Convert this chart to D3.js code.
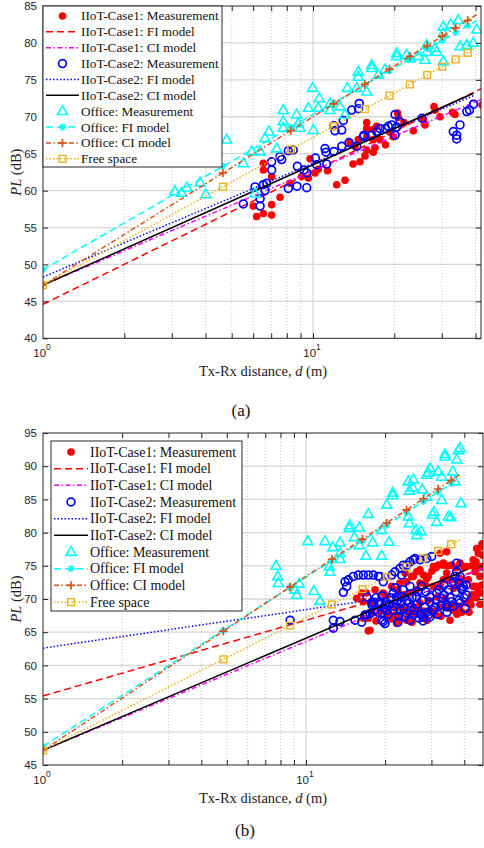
<!DOCTYPE html>
<html>
<head>
<meta charset="utf-8">
<script src="https://cdn.jsdelivr.net/npm/d3@7"></script>
<style>
  body { margin: 0; background: #fff; }
  svg { display: block; }
</style>
</head>
<body>
<script>
// ---------- Measured path loss, panel (a): [distance m, PL dB] ----------
const case1A = [[6.01,57.9],[6.19,56.5],[6.55,56.9],[7.03,58.1],[7.03,56.7],[7.55,59.1],[8.22,61.0],[6.55,63.7],[6.55,62.8],[7.03,61.9],[9.08,61.9],[9.75,64.3],[9.61,61.7],[10.46,62.9],[10.17,62.4],[11.32,62.7],[12.24,60.8],[13.14,61.4],[14.07,63.6],[14.93,63.9],[15.58,64.7],[13.71,66.5],[14.31,66.0],[14.72,66.9],[15.81,65.5],[15.81,69.2],[15.81,68.4],[15.81,67.3],[16.72,68.3],[16.72,66.9],[16.97,65.8],[16.72,65.2],[17.70,66.9],[18.56,66.2],[17.21,68.7],[19.28,67.9],[19.84,67.3],[20.56,70.5],[20.70,69.9],[21.73,69.2],[23.52,68.1],[25.62,69.6],[25.99,68.9],[28.06,71.4],[28.31,70.9],[29.54,70.0],[32.86,70.6],[33.57,70.3],[42.26,71.6]];
const case2A = [[5.52,58.2],[6.10,60.5],[6.37,58.9],[6.37,57.9],[6.64,60.0],[6.55,60.8],[6.74,61.0],[7.03,62.8],[7.03,63.9],[7.55,64.6],[7.66,64.2],[8.10,65.4],[8.45,65.5],[8.10,60.3],[8.72,60.6],[9.48,60.4],[8.75,63.3],[9.26,62.8],[9.48,62.4],[10.21,64.4],[10.32,63.5],[11.08,65.7],[11.17,65.2],[11.24,63.6],[11.96,65.3],[12.78,66.0],[13.59,66.5],[14.52,66.0],[15.45,67.5],[11.96,68.8],[12.06,68.1],[12.78,68.2],[12.95,69.5],[13.91,70.9],[14.84,71.8],[14.74,71.1],[15.36,67.3],[16.50,67.5],[17.21,68.0],[17.70,68.4],[18.56,68.4],[19.01,68.7],[19.56,68.9],[20.13,70.3],[20.13,67.5],[20.42,68.6],[21.00,69.3],[25.33,69.8],[33.08,68.0],[34.06,67.5],[34.06,67.0],[35.03,68.9],[37.10,70.7],[37.99,70.9],[39.30,71.7]];
const officeA = [[3.08,59.9],[3.26,59.7],[3.41,60.4],[3.82,61.1],[4.01,59.5],[4.79,66.9],[5.52,63.7],[5.93,65.3],[6.37,65.3],[6.64,67.1],[6.87,68.0],[7.34,65.7],[7.76,70.9],[7.76,69.4],[7.76,68.5],[8.70,70.3],[8.82,69.1],[8.95,68.5],[9.61,71.2],[9.97,73.9],[10.03,68.2],[10.46,71.2],[10.55,72.5],[11.56,70.9],[11.56,71.8],[12.59,71.4],[13.14,70.3],[13.40,73.9],[14.52,73.9],[14.72,76.1],[14.72,75.4],[15.81,73.4],[16.50,77.0],[16.50,76.6],[17.46,75.7],[18.48,76.4],[20.42,78.6],[20.42,78.2],[22.23,78.4],[22.87,77.9],[24.55,78.2],[25.99,77.7],[26.37,79.7],[26.37,78.8],[28.31,79.3],[28.72,78.8],[30.38,77.5],[30.38,82.2],[30.38,81.3],[32.36,82.5],[34.52,83.1],[35.03,79.5],[37.10,79.7],[39.25,80.0],[40.40,81.8],[6.10,59.6]];

// ---------- Measured path loss, panel (b): [distance m, PL dB] ----------
const case1B = [[17.51,65.3],[17.26,67.1],[17.01,70.9],[18.30,71.4],[19.67,70.9],[21.18,71.9],[22.77,72.4],[24.15,72.6],[25.23,73.4],[26.36,74.1],[27.93,73.6],[29.17,73.4],[27.13,72.4],[26.36,71.4],[24.86,70.9],[23.44,70.6],[22.77,68.8],[23.79,68.3],[22.43,66.8],[24.15,66.8],[27.13,69.4],[29.61,68.3],[30.94,67.6],[32.33,68.8],[33.78,70.1],[36.32,68.3],[36.86,69.1],[38.51,68.3],[40.83,69.4],[42.66,70.6],[44.57,71.9],[45.87,73.4],[43.92,74.1],[40.83,74.9],[38.51,75.4],[35.81,75.1],[33.28,75.1],[31.85,75.1],[30.48,74.9],[34.28,73.9],[35.81,72.9],[36.32,71.6],[38.51,72.4],[41.41,72.9],[43.26,75.9],[45.20,76.9],[46.98,77.9],[46.98,76.6],[46.57,74.9],[33.28,72.9],[30.48,71.9],[31.41,70.3],[29.17,69.8],[25.59,68.8],[21.80,67.6],[20.27,67.3],[19.11,68.1],[17.78,69.6],[16.52,69.6],[17.26,65.2],[16.52,67.1],[17.78,67.8],[22.13,67.4],[23.44,68.3],[26.36,68.6],[30.94,68.1],[35.28,68.6],[25.59,67.8],[32.33,76.9],[34.28,77.1],[44.57,77.6],[46.69,78.3],[23.79,73.9],[25.59,73.4],[28.77,73.1],[33.28,75.4],[35.28,72.9],[43.26,71.9],[45.87,70.9],[42.03,69.6],[37.41,68.8],[32.33,71.9],[15.59,70.1],[16.28,70.9],[27.13,74.4],[30.13,74.2],[31.21,74.7],[34.67,75.0],[37.18,74.7],[39.88,74.8],[42.77,75.0],[44.30,75.6],[45.08,74.7],[39.19,72.9],[34.28,72.9],[28.35,72.3],[22.38,71.4],[20.15,70.5],[19.28,68.6],[20.50,68.0],[21.80,68.9],[24.64,67.7],[27.86,68.2],[33.78,68.8],[38.17,68.9],[43.15,70.6],[46.69,72.1],[42.40,69.1],[39.19,68.0],[35.28,66.8],[45.08,71.4],[22.13,66.3],[18.46,66.7],[21.23,67.0],[25.29,66.5],[28.85,66.8],[32.62,67.4],[37.50,67.7],[41.68,68.0],[45.87,69.2],[44.30,70.2]];
const case2B = [[8.70,66.8],[12.70,66.8],[13.47,66.6],[12.70,65.6],[15.36,66.8],[16.28,66.5],[16.77,67.6],[17.01,67.6],[13.87,71.0],[14.28,71.9],[14.48,72.9],[15.13,73.4],[15.81,73.6],[16.52,73.6],[17.26,73.6],[18.03,73.6],[18.83,73.4],[19.67,72.6],[21.18,73.6],[21.80,74.1],[22.77,74.6],[23.44,75.1],[24.86,75.6],[25.97,76.1],[27.13,75.9],[28.77,76.1],[30.05,76.4],[23.11,73.6],[14.07,72.6],[17.78,69.4],[18.30,68.3],[19.11,69.6],[19.40,66.8],[19.97,66.3],[20.27,68.3],[21.47,70.9],[22.13,70.3],[23.11,69.4],[24.15,69.8],[25.23,68.8],[26.36,70.3],[27.13,67.8],[27.93,67.3],[29.17,67.6],[30.94,68.8],[32.81,70.1],[34.28,68.8],[34.76,71.4],[36.32,72.6],[37.41,75.4],[37.41,74.1],[38.51,73.4],[39.64,71.9],[40.83,70.6],[35.81,69.6],[21.47,68.3],[22.77,68.3],[25.59,67.6],[23.79,67.3],[17.51,67.8],[19.97,69.1],[29.61,70.3],[31.41,70.9],[24.86,71.9],[27.54,71.9],[38.51,69.4],[40.23,68.6],[27.54,67.6],[29.61,67.3],[34.28,69.1],[19.67,66.6],[36.86,73.4],[38.17,72.4],[39.19,71.6],[24.15,75.1],[25.59,75.9],[19.11,73.4],[17.06,70.3],[17.82,69.1],[18.46,70.2],[18.79,68.0],[19.45,70.5],[20.15,69.5],[20.50,67.7],[21.05,70.2],[21.61,68.9],[22.18,69.7],[22.57,67.4],[23.17,70.3],[23.58,68.6],[24.21,67.9],[24.64,69.4],[25.29,70.2],[25.74,68.3],[26.43,69.2],[26.90,67.1],[27.61,69.8],[28.35,68.8],[28.85,68.0],[29.61,69.5],[30.40,68.3],[31.21,69.8],[31.77,67.7],[32.62,69.1],[33.48,70.6],[34.37,68.0],[35.28,70.2],[36.22,68.9],[37.18,71.1],[38.17,69.8],[39.19,71.4],[39.88,70.2],[40.59,72.1],[33.48,72.1],[32.05,71.4],[28.60,71.1],[26.66,71.1],[23.44,71.4],[21.80,71.7],[20.68,69.2],[24.86,66.8],[27.86,66.7],[22.38,66.5],[18.95,69.2],[19.80,68.6],[18.14,69.5]];
const officeB = [[7.69,75.0],[7.81,73.4],[7.85,72.4],[9.08,71.4],[9.22,70.6],[9.43,72.3],[10.15,78.7],[10.72,71.2],[11.30,69.7],[11.81,78.7],[12.26,74.9],[12.34,74.1],[12.64,77.8],[13.47,78.5],[13.47,76.9],[13.47,76.0],[14.61,80.7],[14.70,81.1],[15.27,79.3],[15.95,80.8],[15.95,78.1],[16.91,76.5],[17.26,82.8],[17.93,78.5],[19.40,76.5],[19.40,80.4],[20.28,84.2],[20.69,78.6],[21.37,86.0],[21.37,85.6],[24.49,87.7],[24.71,86.3],[25.59,88.0],[25.46,86.8],[24.49,82.4],[24.71,81.4],[26.20,80.4],[26.36,79.6],[27.37,80.2],[27.68,86.5],[28.77,85.4],[29.17,89.0],[29.61,89.7],[28.77,88.7],[30.31,82.7],[30.66,83.1],[31.41,81.6],[31.85,89.2],[32.81,88.4],[32.81,84.9],[33.78,91.8],[33.78,91.4],[34.76,82.4],[35.50,82.3],[36.13,89.2],[36.86,87.7],[37.41,91.0],[37.94,92.4],[38.51,92.7],[38.85,84.4]];

// ---------- Fitted models: PL(d) = A + slope * log10(d), drawn from d = 1 to dEnd ----------
// [A (dB), slope (dB/decade), dEnd (m)]
const case1FI_A = [44.6, 18.0, 42.0], case1CI_A = [47.2, 15.5, 42.0];
const case2FI_A = [48.3, 15.4, 39.3], case2CI_A = [47.2, 16.3, 39.3];
const officeFI_A = [49.3, 21.0, 40.4], officeCI_A = [47.2, 22.8, 40.4];
const freeSpace_A = [47.2, 20.0, 40.4];
const markD_A = [1, 4.64, 8.28, 11.92, 15.56, 19.2, 22.84, 26.48, 30.12, 33.76, 37.4];

const case1FI_B = [55.4, 11.4, 47.1], case1CI_B = [47.2, 16.4, 47.1];
const case2FI_B = [62.6, 5.8, 40.8], case2CI_B = [47.2, 16.9, 40.8];
const officeFI_B = [47.8, 25.5, 38.5], officeCI_B = [47.2, 26.2, 38.5];
const freeSpace_B = [47.2, 20.0, 38.5];
const markD_B = [1, 4.85, 8.7, 12.55, 16.4, 20.25, 24.1, 27.95, 31.8, 35.65];

// ---------- Axis ticks and labels ----------
const yTicksA = [40, 45, 50, 55, 60, 65, 70, 75, 80, 85];
const yTicksB = [45, 50, 55, 60, 65, 70, 75, 80, 85, 90, 95];
const xMinorTicks = [2, 3, 4, 5, 6, 7, 8, 9, 20, 30, 40];
const xDecades = [1, 10];
const legendLabels = ["IIoT-Case1: Measurement", "IIoT-Case1: FI model", "IIoT-Case1: CI model",
  "IIoT-Case2: Measurement", "IIoT-Case2: FI model", "IIoT-Case2: CI model",
  "Office: Measurement", "Office: FI model", "Office: CI model", "Free space"];

// ---------- Styles ----------
const C = { red: "#ff0000", magenta: "#ff00ff", blue: "#0000ff", black: "#000000",
  cyan: "#00ffff", orange: "#d95319", yellow: "#edb120", axis: "#262626" };
const DASH = { dash: "7,4", dashdot: "5,2.5,1.5,2.5", dot: "1.5,2", solid: null };
const SERIF = "'Liberation Serif','Times New Roman',Times,serif";
const SANS = "'Liberation Sans',Arial,Helvetica,sans-serif";

const svg = d3.select("body").append("svg").attr("width", 484).attr("height", 848);

// ---------- marker painters ----------
function dot(g, cx, cy) {
  g.append("circle").attr("cx", cx).attr("cy", cy).attr("r", 3.8).attr("fill", C.red);
}
function ring(g, cx, cy) {
  g.append("circle").attr("cx", cx).attr("cy", cy).attr("r", 3.9)
    .attr("fill", "none").attr("stroke", C.blue).attr("stroke-width", 1.7);
}
function tri(g, cx, cy) {
  g.append("path").attr("d", `M${cx},${cy - 5.4}L${cx + 5},${cy + 3.4}L${cx - 5},${cy + 3.4}Z`)
    .attr("fill", "none").attr("stroke", C.cyan).attr("stroke-width", 1.6).attr("stroke-linejoin", "miter");
}
function star(g, cx, cy) {
  const s = 3.6, t = 2.6;
  g.append("path").attr("d",
    `M${cx - s},${cy}H${cx + s}M${cx},${cy - s}V${cy + s}M${cx - t},${cy - t}L${cx + t},${cy + t}M${cx - t},${cy + t}L${cx + t},${cy - t}`)
    .attr("stroke", C.cyan).attr("stroke-width", 1.4);
}
function plus(g, cx, cy) {
  const s = 4.2;
  g.append("path").attr("d", `M${cx - s},${cy}H${cx + s}M${cx},${cy - s}V${cy + s}`)
    .attr("stroke", C.orange).attr("stroke-width", 1.7);
}
function square(g, cx, cy) {
  g.append("rect").attr("x", cx - 3.4).attr("y", cy - 3.4).attr("width", 6.8).attr("height", 6.8)
    .attr("fill", "none").attr("stroke", C.yellow).attr("stroke-width", 1.4);
}

function drawPanel(P) {
  const x = d3.scaleLog().domain([1, P.dMax]).range([P.left, P.right]);
  const y = d3.scaleLinear().domain([P.yMin, P.yMax]).range([P.bottom, P.top]);
  const g = svg.append("g");
  const clipId = "clip" + P.id;
  svg.append("clipPath").attr("id", clipId).append("rect")
    .attr("x", P.left).attr("y", P.top).attr("width", P.right - P.left).attr("height", P.bottom - P.top);

  // grid
  const grid = g.append("g");
  grid.selectAll(".hg").data(P.yTicks.slice(1, -1)).join("line")
    .attr("x1", P.left).attr("x2", P.right).attr("y1", d => y(d)).attr("y2", d => y(d))
    .attr("stroke", "#d8d8d8").attr("stroke-width", 1.3);
  grid.selectAll(".vm").data(xMinorTicks.filter(d => d < P.dMax)).join("line")
    .attr("x1", d => x(d)).attr("x2", d => x(d)).attr("y1", P.top).attr("y2", P.bottom)
    .attr("stroke", "#bdbdbd").attr("stroke-width", 0.8).attr("stroke-dasharray", "1,2");
  grid.append("line").attr("x1", x(10)).attr("x2", x(10)).attr("y1", P.top).attr("y2", P.bottom)
    .attr("stroke", "#d8d8d8").attr("stroke-width", 1.3);

  const plot = g.append("g").attr("clip-path", `url(#${clipId})`);

  function model(m, color, dash, markFn) {
    const line = d3.line().x(d => x(d)).y(d => y(m[0] + m[1] * Math.log10(d)));
    plot.append("path").attr("d", line([1, m[2]])).attr("fill", "none")
      .attr("stroke", color).attr("stroke-width", 1.5)
      .attr("stroke-dasharray", dash);
    if (markFn) {
      const mg = plot.append("g");
      P.marks.filter(d => d <= m[2]).forEach(d => markFn(mg, x(d), y(m[0] + m[1] * Math.log10(d))));
    }
  }
  function scatter(data, fn) {
    const sg = plot.append("g");
    data.forEach(([d, pl]) => fn(sg, x(d), y(pl)));
  }

  scatter(P.case1, dot);
  model(P.c1FI, C.red, DASH.dash);
  model(P.c1CI, C.magenta, DASH.dashdot);
  scatter(P.case2, ring);
  model(P.c2FI, C.blue, DASH.dot);
  model(P.c2CI, C.black, DASH.solid);
  scatter(P.office, tri);
  model(P.ofFI, C.cyan, DASH.dash, star);
  model(P.ofCI, C.orange, DASH.dashdot, plus);
  model(P.fs, C.yellow, DASH.dot, square);

  // axes box and ticks
  const ax = g.append("g").attr("font-family", SANS).attr("font-size", 11.5).attr("fill", C.axis);
  ax.append("rect").attr("x", P.left).attr("y", P.top).attr("width", P.right - P.left)
    .attr("height", P.bottom - P.top).attr("fill", "none").attr("stroke", C.axis).attr("stroke-width", 1);

  const left = d3.axisLeft(y).tickValues(P.yTicks).tickSize(-5).tickPadding(6).tickFormat(d3.format("d"));
  const right = d3.axisRight(y).tickValues(P.yTicks).tickSize(-5).tickFormat("");
  const allX = xMinorTicks.concat([10]).filter(d => d < P.dMax);
  const bottom = d3.axisBottom(x).tickValues(allX).tickSize(-5).tickFormat("");
  const top = d3.axisTop(x).tickValues(allX).tickSize(-5).tickFormat("");
  [[left, `translate(${P.left},0)`], [right, `translate(${P.right},0)`],
   [bottom, `translate(0,${P.bottom})`], [top, `translate(0,${P.top})`]].forEach(([a, t]) => {
    const s = ax.append("g").attr("transform", t).call(a);
    s.select(".domain").remove();
    s.selectAll("line").attr("stroke", C.axis);
    s.selectAll("text").attr("fill", C.axis).attr("font-family", SANS).attr("font-size", 11.5);
  });

  // decade labels 10^0, 10^1
  xDecades.forEach((d, i) => {
    const t = ax.append("text").attr("x", x(d) - 1).attr("y", P.bottom + 19)
      .attr("text-anchor", "middle").attr("fill", C.axis);
    t.append("tspan").text("10");
    t.append("tspan").attr("dy", -7).attr("font-size", 8.5).text(String(i));
  });

  // axis titles
  const yl = g.append("text").attr("font-family", SERIF).attr("font-size", 14.5).attr("fill", "#222")
    .attr("text-anchor", "middle")
    .attr("transform", `translate(${21},${(P.top + P.bottom) / 2}) rotate(-90)`);
  yl.append("tspan").attr("font-style", "italic").text("PL");
  yl.append("tspan").text(" (dB)");

  const xl = g.append("text").attr("font-family", SERIF).attr("font-size", 14.5).attr("fill", "#222")
    .attr("text-anchor", "middle").attr("x", P.xLabelX).attr("y", P.bottom + 38);
  xl.append("tspan").text("Tx-Rx distance, ");
  xl.append("tspan").attr("font-style", "italic").text("d");
  xl.append("tspan").text(" (m)");

  g.append("text").attr("font-family", SERIF).attr("font-size", 17).attr("fill", "#111")
    .attr("text-anchor", "middle").attr("x", P.tagX).attr("y", P.tagY).text(P.tag);

  // legend
  const L = P.legend;
  const lg = g.append("g");
  lg.append("rect").attr("x", L.x).attr("y", L.y).attr("width", L.w).attr("height", L.h)
    .attr("fill", "#fff").attr("stroke", C.axis).attr("stroke-width", 1);
  const samples = [
    { m: dot }, { c: C.red, d: DASH.dash }, { c: C.magenta, d: DASH.dashdot },
    { m: ring }, { c: C.blue, d: DASH.dot }, { c: C.black, d: DASH.solid },
    { m: tri }, { c: C.cyan, d: DASH.dash, m: star }, { c: C.orange, d: DASH.dashdot, m: plus },
    { c: C.yellow, d: DASH.dot, m: square }];
  legendLabels.forEach((lab, i) => {
    const cy = L.y + L.first + i * L.step;
    const s = samples[i];
    if (s.c) lg.append("line").attr("x1", L.x + 3).attr("x2", L.x + L.sw).attr("y1", cy).attr("y2", cy)
      .attr("stroke", s.c).attr("stroke-width", 1.5).attr("stroke-dasharray", s.d);
    if (s.m) s.m(lg, L.x + 3 + (L.sw - 3) / 2, cy);
    lg.append("text").attr("x", L.x + L.sw + 2).attr("y", cy + L.fs * 0.34)
      .attr("font-family", SERIF).attr("font-size", L.fs).attr("fill", "#111").text(lab);
  });
}

drawPanel({
  id: "A", left: 43, right: 481, top: 6, bottom: 338.3, dMax: 41.9, yMin: 40, yMax: 85,
  yTicks: yTicksA, marks: markD_A,
  case1: case1A, case2: case2A, office: officeA,
  c1FI: case1FI_A, c1CI: case1CI_A, c2FI: case2FI_A, c2CI: case2CI_A,
  ofFI: officeFI_A, ofCI: officeCI_A, fs: freeSpace_A,
  xLabelX: 263, tag: "(a)", tagX: 241, tagY: 416,
  legend: { x: 43, y: 6, w: 179, h: 161, first: 10, step: 15.86, sw: 36, fs: 13.2 }
});

drawPanel({
  id: "B", left: 43, right: 483, top: 433, bottom: 765, dMax: 47.1, yMin: 45, yMax: 95,
  yTicks: yTicksB, marks: markD_B,
  case1: case1B, case2: case2B, office: officeB,
  c1FI: case1FI_B, c1CI: case1CI_B, c2FI: case2FI_B, c2CI: case2CI_B,
  ofFI: officeFI_B, ofCI: officeCI_B, fs: freeSpace_B,
  xLabelX: 263, tag: "(b)", tagX: 245, tagY: 836,
  legend: { x: 51, y: 441, w: 191, h: 170, first: 11, step: 16.67, sw: 37, fs: 14 }
});
</script>
</body>
</html>
